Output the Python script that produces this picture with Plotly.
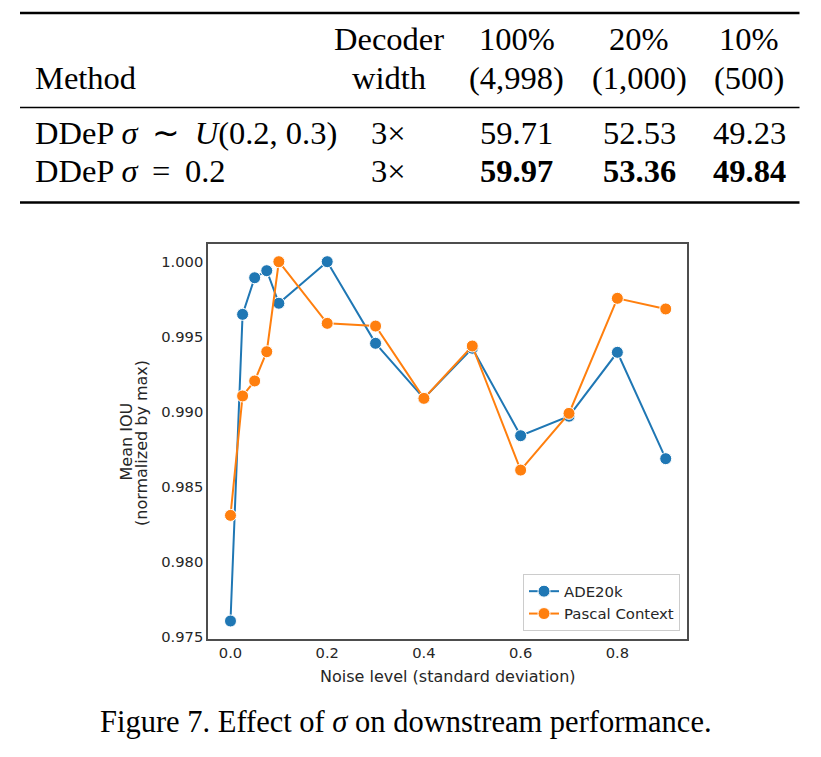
import plotly.graph_objects as go

# ---------------- data ----------------
noise = [0.0, 0.025, 0.05, 0.075, 0.1, 0.2, 0.3, 0.4, 0.5, 0.6, 0.7, 0.8, 0.9]
ade20k = [0.97605, 0.99649, 0.99893, 0.99940, 0.99723, 1.00000, 0.99456,
          0.99089, 0.99423, 0.98840, 0.98970, 0.99396, 0.98687]
pascal = [0.98309, 0.99105, 0.99205, 0.99400, 1.00000, 0.99589, 0.99571,
          0.99089, 0.99438, 0.98611, 0.98989, 0.99756, 0.99685]
series_names = ["ADE20k", "Pascal Context"]
x_ticks = [0.0, 0.2, 0.4, 0.6, 0.8]
y_ticks = [0.975, 0.980, 0.985, 0.990, 0.995, 1.000]

table_header_top = ["Decoder", "100%", "20%", "10%"]
table_header_bottom = ["Method", "width", "(4,998)", "(1,000)", "(500)"]
table_methods = ["DDeP <i>σ</i> \u2009∼\u2009 <i>U</i>(0.2, 0.3)", "DDeP <i>σ</i> \u2009=\u2009 0.2"]
table_width = ["3×", "3×"]
table_values = [["59.71", "52.53", "49.23"], ["59.97", "53.36", "49.84"]]
table_bold = [[False, False, False], [True, True, True]]
caption = "Figure 7. Effect of <i>σ</i> on downstream performance."

# ---------------- layout helpers ----------------
W, H = 821, 757
PAGE = 8  # page body margin (screen offset)
ML, MR, MT, MB = 200, 142, 236, 126
PW, PH = W - ML - MR, H - MT - MB


def px(sx):
    return (sx - PAGE - ML) / PW


def py(sy):
    return (H - MB - (sy - PAGE)) / PH


BLUE = "#1f77b4"
ORANGE = "#ff7f0e"

fig = go.Figure()
for name, vals, col in [(series_names[0], ade20k, BLUE), (series_names[1], pascal, ORANGE)]:
    fig.add_trace(go.Scatter(
        x=noise, y=vals, name=name, mode="lines+markers",
        line=dict(color=col, width=2),
        marker=dict(size=12, color=col, line=dict(color="white", width=1)),
    ))

tick_font = dict(family="DejaVu Sans", size=14.7, color="#262626")
label_font = dict(family="DejaVu Sans", size=16, color="#262626")
fig.update_layout(
    width=W, height=H,
    margin=dict(l=ML, r=MR, t=MT, b=MB, autoexpand=False),
    paper_bgcolor="white", plot_bgcolor="white",
    showlegend=True,
    legend=dict(
        x=px(680), y=py(631), xanchor="right", yanchor="bottom",
        bgcolor="white", bordercolor="#cccccc", borderwidth=1,
        font=dict(family="DejaVu Sans", size=14.9, color="#262626"),
        tracegroupgap=0, itemwidth=30,
    ),
    xaxis=dict(
        range=[-0.0465, 0.944], tickvals=x_ticks, ticktext=[f"{v:.1f}" for v in x_ticks],
        showgrid=False, zeroline=False, showline=True, mirror=True,
        linecolor="#4d4d4d", linewidth=1.5, ticks="", tickfont=tick_font,
    ),
    yaxis=dict(
        range=[0.97485, 1.00118], tickvals=y_ticks, ticktext=[f"{v:.3f}" for v in y_ticks],
        showgrid=False, zeroline=False, showline=True, mirror=True,
        linecolor="#4d4d4d", linewidth=1.5, ticks="", tickfont=tick_font,
    ),
)

# axis titles
fig.add_annotation(x=px(447.5), y=py(676.5), xref="paper", yref="paper",
                   text="Noise level (standard deviation)", showarrow=False,
                   font=label_font, xanchor="center", yanchor="middle")
fig.add_annotation(x=px(125.5), y=py(442), xref="paper", yref="paper",
                   text="Mean IOU", showarrow=False, textangle=-90,
                   font=label_font, xanchor="center", yanchor="middle")
fig.add_annotation(x=px(141), y=py(443), xref="paper", yref="paper",
                   text="(normalized by max)", showarrow=False, textangle=-90,
                   font=label_font, xanchor="center", yanchor="middle")

# ---------------- table ----------------
serif = dict(family="Liberation Serif", size=32.5, color="black")
for yy, lw in [(13, 2.7), (107.5, 1.7), (202.5, 2.7)]:
    fig.add_shape(type="line", xref="paper", yref="paper",
                  x0=px(20), x1=px(799.5), y0=py(yy), y1=py(yy),
                  line=dict(color="black", width=lw))

col_x = [388.5, 516.5, 639, 749]
row_y_head = [41, 79]
row_y_body = [134, 172.5]
OFF = -1.5  # text box center vs cap center


def txt(x, y, s, anchor="center", font=serif):
    fig.add_annotation(x=px(x), y=py(y + OFF), xref="paper", yref="paper", text=s,
                       showarrow=False, font=font, xanchor=anchor, yanchor="middle")


for i, s in enumerate(table_header_top):
    txt(col_x[i], row_y_head[0], s)
txt(33, row_y_head[1], table_header_bottom[0], anchor="left")
for i, s in enumerate(table_header_bottom[1:]):
    txt(col_x[i], row_y_head[1], s)

for r in range(2):
    txt(33, row_y_body[r], table_methods[r], anchor="left")
    txt(col_x[0], row_y_body[r], table_width[r])
    for c in range(3):
        v = table_values[r][c]
        if table_bold[r][c]:
            v = f"<b>{v}</b>"
        txt(col_x[c + 1], row_y_body[r], v)

txt(405.5, 723.5, caption, font=dict(family="Liberation Serif", size=30.5, color="black"))

fig.write_html("out.html")
